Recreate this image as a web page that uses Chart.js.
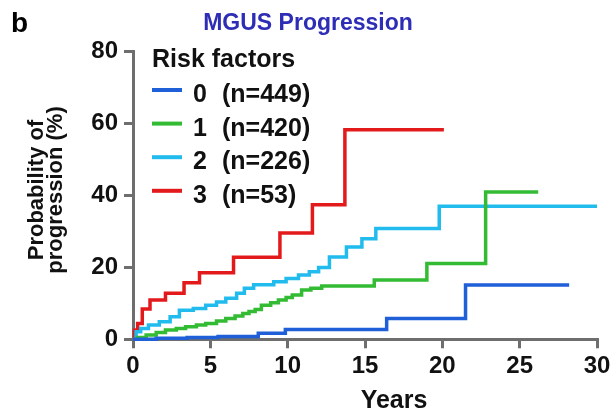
<!DOCTYPE html>
<html>
<head>
<meta charset="utf-8">
<script src="https://cdn.jsdelivr.net/npm/chart.js"></script>
<style>
  html, body { margin: 0; padding: 0; background: #fff; }
  #wrap { width: 612px; height: 415px; }
</style>
</head>
<body>
<div id="wrap"><canvas id="km" width="612" height="415"></canvas></div>
<script>
// risk groups and their sizes
const riskGroups = ["0", "1", "2", "3"];
const groupSizes = [449, 420, 226, 53];
const groupColors = ["#1f5fd8", "#33bb33", "#22bbee", "#e31a1c"];

// step curves: time (years) where each step starts, and cumulative % progression
const rf0Years = [0, 1.5, 3.5, 5.5, 8.1, 9.85, 16.4, 21.5, 28.2];
const rf0Prob  = [0, 0.3, 0.5, 0.8, 1.7, 2.7, 5.8, 15.1, 15.1];

const rf1Years = [0, 0.3, 0.85, 1.5, 2.1, 2.8, 3.4, 4.1, 4.7, 5.4, 6.0, 6.6, 7.1, 7.5, 7.9, 8.3, 8.9, 9.4, 9.9, 10.3, 10.9, 11.5, 12.2, 15.6, 19.0, 22.8, 26.2];
const rf1Prob  = [0, 0.5, 1.2, 1.9, 2.6, 3.0, 3.5, 4.0, 4.4, 5.1, 5.8, 6.5, 7.2, 7.7, 8.3, 9.5, 10.2, 10.9, 11.6, 12.3, 13.7, 14.2, 14.8, 16.5, 21.1, 41.0, 41.0];

const rf2Years = [0, 0.2, 0.5, 1.0, 1.7, 2.4, 3.0, 3.9, 4.7, 5.4, 6.0, 6.7, 7.2, 7.8, 9.1, 9.9, 10.7, 11.4, 12.0, 12.7, 13.8, 14.8, 15.7, 19.8, 30];
const rf2Prob  = [0, 2.1, 3.0, 4.0, 4.9, 6.3, 8.1, 8.6, 9.5, 10.4, 11.4, 12.8, 14.2, 15.2, 16.0, 16.9, 17.9, 18.8, 20.0, 22.9, 25.7, 28.0, 30.8, 37.0, 37.0];

const rf3Years = [0, 0.1, 0.3, 0.6, 1.1, 2.1, 3.3, 4.3, 6.5, 9.5, 11.6, 13.7, 20.1];
const rf3Prob  = [0, 2.6, 4.4, 8.4, 10.9, 12.8, 15.7, 18.5, 22.8, 29.6, 37.4, 58.3, 58.3];

const xTicksStep = 5;
const yTicksStep = 20;

const fontFam = "'Liberation Sans', Arial, sans-serif";
const axisGrey = "#6e6e6e";

const curves = [[rf0Years, rf0Prob], [rf1Years, rf1Prob], [rf2Years, rf2Prob], [rf3Years, rf3Prob]];

const datasets = curves.map(([xs, ys], i) => ({
  label: riskGroups[i] + "  (n=" + groupSizes[i] + ")",
  data: xs.map((x, j) => ({ x: x, y: ys[j] })),
  borderColor: groupColors[i],
  borderWidth: 3.5,
  pointRadius: 0,
  stepped: true,
  fill: false,
  clip: false
}));

// title, axis titles and legend drawn on top
const annotations = {
  id: "annotations",
  afterDraw(chart) {
    const c = chart.ctx;
    c.save();
    c.textBaseline = "alphabetic";

    c.fillStyle = "#000";
    c.font = "bold 28px " + fontFam;
    c.textAlign = "left";
    c.fillText("b", 11, 32);

    c.fillStyle = "#2d2db5";
    c.font = "bold 23px " + fontFam;
    c.textAlign = "center";
    c.fillText("MGUS Progression", 308, 30);

    c.fillStyle = "#111";
    c.font = "bold 25px " + fontFam;
    c.fillText("Years", 394, 408);

    // y axis title, two lines
    c.save();
    c.translate(43, 190);
    c.rotate(-Math.PI / 2);
    c.font = "bold 22px " + fontFam;
    c.fillText("Probability of", 0, 0);
    c.fillText("progression (%)", 0, 18.5);
    c.restore();

    // legend
    c.textAlign = "left";
    c.font = "bold 25px " + fontFam;
    c.fillText("Risk factors", 152, 67);
    chart.data.datasets.forEach((ds, i) => {
      const base = 102 + i * 33.6;
      c.strokeStyle = ds.borderColor;
      c.lineWidth = 4;
      c.beginPath();
      c.moveTo(152, base - 12);
      c.lineTo(182, base - 12);
      c.stroke();
      c.fillStyle = "#111";
      c.fillText(riskGroups[i], 193, base);
      c.fillText("(n=" + groupSizes[i] + ")", 222, base);
    });
    c.restore();
  }
};

new Chart(document.getElementById("km"), {
  type: "line",
  data: { datasets: datasets },
  options: {
    responsive: false,
    animation: false,
    devicePixelRatio: 1,
    layout: { padding: { top: 51.7, right: 15, left: 0, bottom: 0 } },
    plugins: {
      legend: { display: false },
      tooltip: { enabled: false }
    },
    scales: {
      x: {
        type: "linear",
        min: 0,
        max: 30,
        afterFit: (s) => { s.height = 75.7; s.paddingLeft = 0; s.paddingRight = 0; },
        border: { color: axisGrey, width: 3 },
        grid: { drawOnChartArea: false, drawTicks: true, tickLength: 9, color: axisGrey, lineWidth: 3 },
        ticks: {
          stepSize: xTicksStep,
          autoSkip: false,
          maxRotation: 0,
          color: "#111",
          padding: 4,
          font: { family: fontFam, size: 24, weight: "bold" }
        }
      },
      y: {
        type: "linear",
        min: 0,
        max: 80,
        afterFit: (s) => { s.width = 133; s.paddingTop = 0; s.paddingBottom = 0; },
        border: { color: axisGrey, width: 3 },
        grid: { drawOnChartArea: false, drawTicks: true, tickLength: 9, color: axisGrey, lineWidth: 3 },
        ticks: {
          stepSize: yTicksStep,
          color: "#111",
          padding: 6,
          font: { family: fontFam, size: 24, weight: "bold" }
        }
      }
    }
  },
  plugins: [annotations]
});
</script>
</body>
</html>
